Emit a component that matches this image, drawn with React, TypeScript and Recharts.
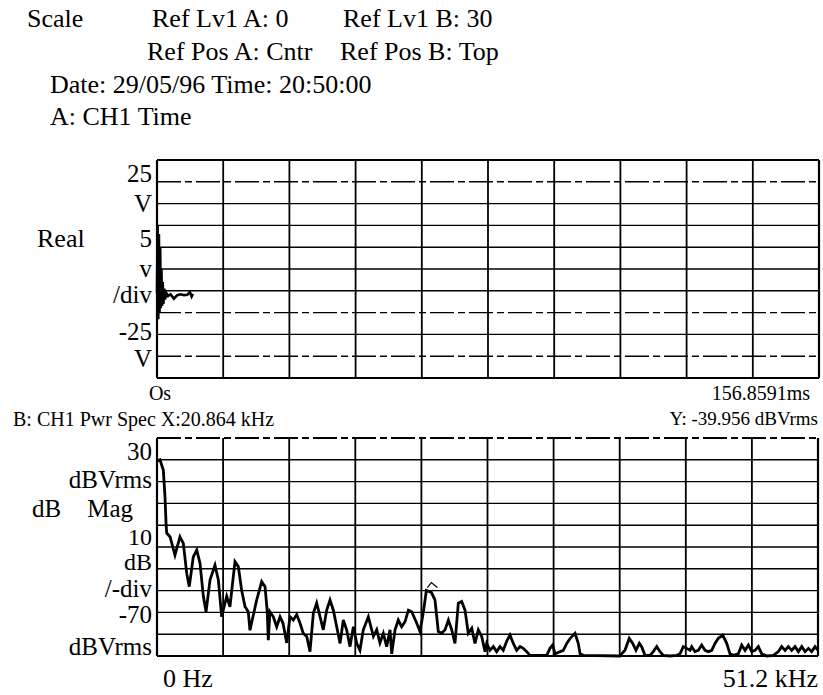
import React from "react";
import { LineChart, Line, XAxis, YAxis, ReferenceLine, ReferenceDot } from "recharts";

// ---- Trace A: CH1 Time (Real, volts vs ms) ----
const timeMs = [0, 0.15, 0.3, 0.45, 0.6, 0.75, 0.9, 1.05, 1.2, 1.35, 1.5, 1.7, 1.9, 2.2, 2.6, 3.2, 4.0, 4.8, 5.6, 6.4, 7.2, 7.8, 8.2, 8.5];
const realV = [-5.5, 10, -11.5, 8, -10, 5, -9, 0, -8.5, -3, -8, -4.5, -7, -5.5, -6.2, -5.8, -6.8, -6, -5.8, -6, -5.9, -5.3, -6.3, -5.7];

// ---- Trace B: CH1 Pwr Spec (dB Mag, dBVrms vs kHz) ----
const freqKHz = [
  0.02, 0.23, 0.49, 0.62, 0.7, 0.75, 1.01, 1.39, 1.78, 2.04, 2.3, 2.5, 2.81, 3.08, 3.33, 3.59, 3.8, 4.11, 4.49, 4.75,
  5.01, 5.4, 5.65, 6.04, 6.3, 6.56, 6.82, 7.07, 7.2, 7.72, 8.11, 8.37, 8.54, 8.62, 8.75, 9.01, 9.27, 9.53, 9.76, 10.05,
  10.3, 10.56, 10.82, 11.08, 11.33, 11.6, 11.85, 12.11, 12.37, 12.63, 12.88, 13.14, 13.4, 13.66, 13.92, 14.18, 14.43, 14.69, 14.95, 15.21,
  15.47, 15.72, 15.98, 16.37, 16.76, 17.02, 17.27, 17.53, 17.79, 18.05, 18.18, 18.44, 18.69, 18.95, 19.21, 19.47, 19.73, 20.12, 20.37, 20.63,
  20.864, 21.25, 21.53, 21.67, 21.79, 22.05, 22.31, 22.57, 22.83, 23.08, 23.34, 23.6, 23.86, 24.11, 24.38, 24.63, 24.89, 25.15, 25.41, 25.54,
  25.79, 26.05, 26.31, 26.57, 26.82, 27.08, 27.34, 27.6, 27.86, 28.12, 28.37, 28.64, 28.89, 30.19, 30.44, 30.65, 30.83, 31.47, 31.74, 31.99,
  32.38, 32.63, 32.77, 33.02, 35.86, 35.99, 36.25, 36.58, 36.85, 37.1, 37.36, 37.54, 37.8, 38.19, 38.44, 38.71, 38.96, 39.22, 39.74, 40.26,
  40.51, 40.77, 41.03, 41.29, 41.42, 41.67, 41.93, 42.19, 42.45, 42.71, 42.97, 43.22, 43.48, 43.82, 44.13, 44.38, 44.64, 45.03, 45.29, 45.55,
  45.81, 46.07, 46.32, 46.58, 46.84, 47.23, 47.74, 48.13, 48.39, 48.65, 48.9, 49.16, 49.42, 49.68, 49.94, 50.2, 50.46, 50.71, 50.97, 51.2,
];
const magDb = [
  19.6, 20, 15.3, 3, -9, -13.6, -15.3, -23.7, -15.3, -18.3, -32, -38.2, -24.5, -21.4, -27.4, -42.6, -49.7, -35, -28.3, -35,
  -52, -42.6, -47.4, -26.7, -29, -40, -47.4, -49.7, -58.2, -44.3, -35.9, -38.2, -49.7, -62.7, -49.7, -52, -56.6, -52, -55, -64,
  -52, -53.5, -51, -55, -59.6, -61, -68, -50.4, -45.7, -52, -58, -49, -44.3, -49, -56.6, -64.2, -53.5, -58, -65.7, -56.6,
  -64.2, -67.4, -58, -52, -61, -58, -64, -59.6, -65.7, -58, -69, -58, -53.5, -56.6, -54.3, -49, -49.7, -55, -58.8, -50,
  -39.96, -40.8, -44.3, -52, -58.8, -59.6, -58, -53.5, -58, -64.2, -45.8, -45, -49, -59.6, -57.3, -64.2, -58, -61, -68, -64.2,
  -67.4, -65.7, -68, -65.7, -67.4, -63.3, -60.4, -64.2, -67.4, -65.7, -66.5, -68, -69.7, -69.7, -66.5, -65, -69, -67.4, -64.2, -62,
  -59.6, -64.2, -69, -69.7, -70, -69, -67.4, -61.9, -64.2, -67.4, -64.2, -65.7, -69.7, -69.7, -68, -65.7, -68, -69.7, -70, -69.7,
  -69, -65.7, -66.5, -67.4, -65.7, -68, -67.4, -65, -67.4, -68, -67.4, -64.2, -61.9, -60.4, -64.2, -69, -69.7, -69, -65, -67.4,
  -65, -68, -67.4, -65.7, -69, -70, -69.7, -68, -65.7, -67.4, -65.7, -67.4, -65.7, -68, -65.7, -68, -66.5, -68, -65.7, -67.4,
];

// ---- Axis ranges / grid divisions ----
const timeSpanMs = 156.8591;
const voltTicks = [-25, -20, -15, -10, -5, 0, 5, 10, 15, 20, 25];
const freqSpan = 51.2;
const dbTicks = [-70, -60, -50, -40, -30, -20, -10, 0, 10, 20, 30];
const divisions = [0, 1, 2, 3, 4, 5, 6, 7, 8, 9, 10];
const markerX = 20.864;
const markerY = -39.956;

const timeData = timeMs.map((t, i) => ({ t, v: realV[i] }));
const specData = freqKHz.map((f, i) => ({ f, db: magDb[i] }));

const FONT = "Liberation Serif, Times New Roman, DejaVu Serif, serif";
const topDashed = [20, -10, -20];
const T = (p: any) => <text {...p} style={{ fontFamily: FONT }} />;

export default function App() {
  return (
    <div style={{ position: "absolute", left: 0, top: 0, width: 823, height: 695, background: "#fff", overflow: "hidden", fontFamily: FONT }}>
      <div style={{ position: "absolute", left: 0, top: 0 }}>
        <LineChart width={823} height={400} data={timeData} margin={{ top: 160, right: 4, bottom: 22, left: 157 }}>
          <XAxis type="number" dataKey="t" domain={[0, timeSpanMs]} hide />
          <YAxis type="number" domain={[-25, 25]} hide />
          {divisions.map((d) => (
            <ReferenceLine key={"tx" + d} x={(timeSpanMs * d) / 10} stroke="#000" strokeWidth={d === 0 || d === 10 ? 2.2 : 1.8} />
          ))}
          {voltTicks.map((v) => (
            <ReferenceLine
              key={"ty" + v}
              y={v}
              stroke="#000"
              strokeWidth={v === 25 || v === -25 ? 2 : 1.4}
              strokeDasharray={topDashed.includes(v) ? "24 4 7 4" : undefined}
            />
          ))}
          <Line type="linear" dataKey="v" stroke="#000" strokeWidth={2.6} dot={false} isAnimationActive={false} />
        </LineChart>
      </div>
      <div style={{ position: "absolute", left: 0, top: 400 }}>
        <LineChart width={823} height={295} data={specData} margin={{ top: 38, right: 5, bottom: 39, left: 157 }}>
          <XAxis type="number" dataKey="f" domain={[0, freqSpan]} hide />
          <YAxis type="number" domain={[-70, 30]} hide />
          {divisions.map((d) => (
            <ReferenceLine key={"fx" + d} x={(freqSpan * d) / 10} stroke="#000" strokeWidth={d === 0 || d === 10 ? 2.2 : 1.8} />
          ))}
          {dbTicks.map((v) => (
            <ReferenceLine
              key={"fy" + v}
              y={v}
              stroke="#000"
              strokeWidth={v === 30 || v === -70 ? 2 : 1.4}
              strokeDasharray={v === 30 ? "24 4 7 4" : undefined}
            />
          ))}
          <Line type="linear" dataKey="db" stroke="#000" strokeWidth={2.8} dot={false} isAnimationActive={false} />
          <ReferenceDot
            x={markerX}
            y={markerY}
            r={0}
            shape={(p: any) => (
              <path
                d={`M${p.cx + 1},${p.cy - 3} L${p.cx + 5},${p.cy - 8} L${p.cx + 11},${p.cy - 3}`}
                stroke="#000"
                strokeWidth={1.2}
                fill="none"
              />
            )}
          />
        </LineChart>
      </div>
      <svg width={823} height={695} style={{ position: "absolute", left: 0, top: 0, pointerEvents: "none" }} fill="#000">
        <g fontSize={26}>
          <T x={27} y={27}>Scale</T>
          <T x={152} y={27}>Ref Lv1 A: 0</T>
          <T x={343} y={27}>Ref Lv1 B: 30</T>
          <T x={147} y={60}>Ref Pos A: Cntr</T>
          <T x={340} y={60}>Ref Pos B: Top</T>
          <T x={50} y={93}>Date: 29/05/96 Time: 20:50:00</T>
          <T x={50} y={125}>A: CH1 Time</T>

          <T x={37} y={247}>Real</T>
        </g>
        <g fontSize={25} textAnchor="end">
          <T x={152} y={182}>25</T>
          <T x={152} y={212}>V</T>
          <T x={152} y={247}>5</T>
          <T x={152} y={277}>v</T>
          <T x={152} y={303}>/div</T>
          <T x={152} y={340}>-25</T>
          <T x={152} y={367}>V</T>
        </g>
        <g fontSize={25}>
          <T x={32} y={517}>dB</T>
          <T x={133} y={517} textAnchor="end">Mag</T>
        </g>
        <g fontSize={25} textAnchor="end">
          <T x={152} y={460}>30</T>
          <T x={152} y={488}>dBVrms</T>
          <T x={152} y={545} fontSize={24}>10</T>
          <T x={152} y={570} fontSize={24}>dB</T>
          <T x={152} y={597}>/-div</T>
          <T x={152} y={623}>-70</T>
          <T x={152} y={655}>dBVrms</T>
        </g>
        <g fontSize={26}>
          <T x={163} y={687}>0 Hz</T>
          <T x={818} y={687} textAnchor="end">51.2 kHz</T>
        </g>
        <g fontSize={20}>
          <T x={160} y={400} textAnchor="middle">Os</T>
          <T x={810} y={400} textAnchor="end">156.8591ms</T>
          <T x={13} y={426}>B: CH1 Pwr Spec X:20.864 kHz</T>
          <T x={818} y={425} textAnchor="end" fontSize={19}>Y: -39.956 dBVrms</T>
        </g>
      </svg>
    </div>
  );
}
